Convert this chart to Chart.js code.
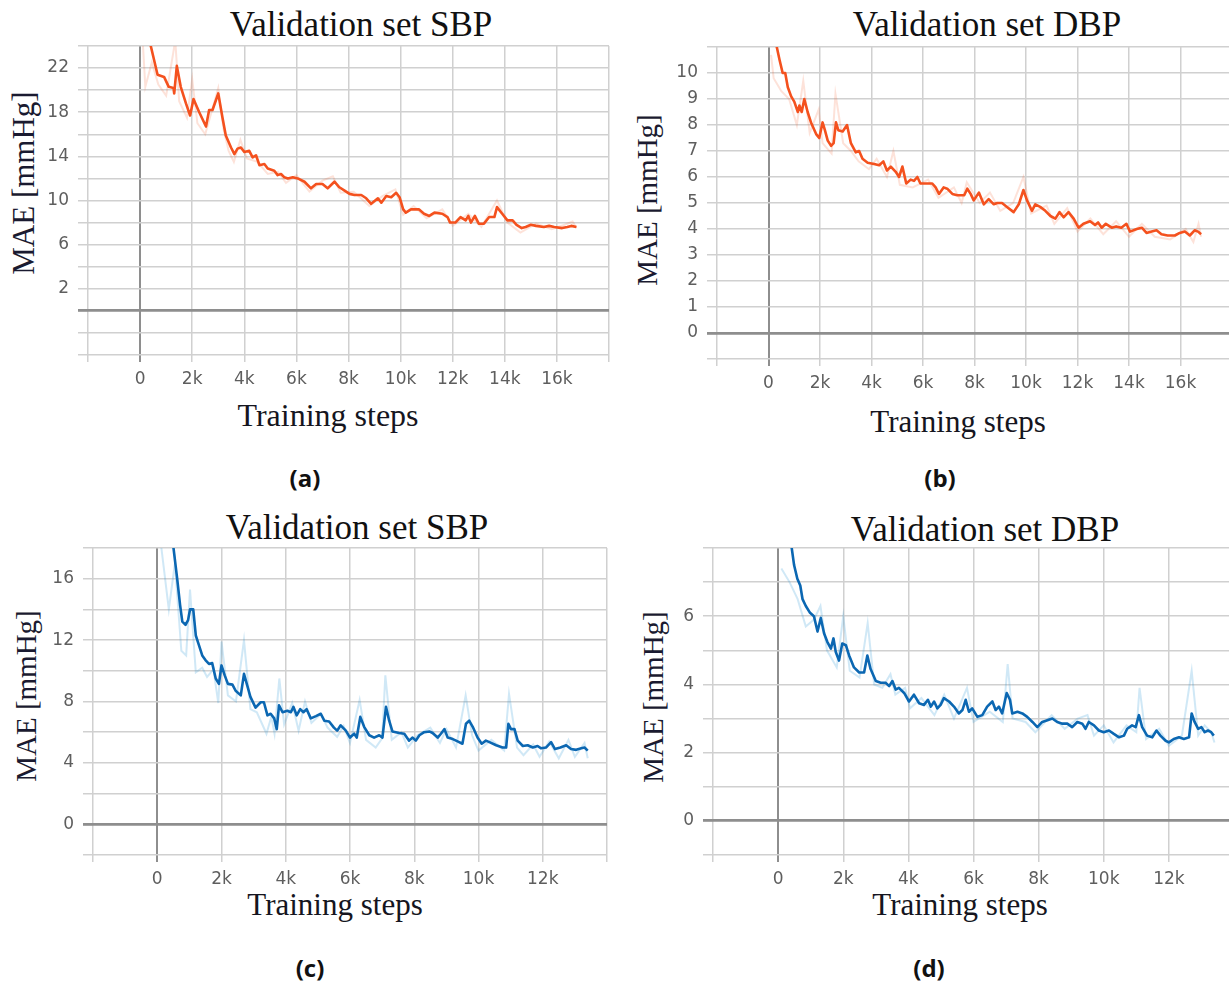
<!DOCTYPE html>
<html>
<head>
<meta charset="utf-8">
<script src="https://cdn.jsdelivr.net/npm/chart.js@4.4.1/dist/chart.umd.min.js"></script>
<style>
  body { margin: 0; width: 1229px; height: 988px; overflow: hidden; background: #fff; position: relative; }
  canvas { position: absolute; }
  .title { position: absolute; width: 400px; text-align: center; font: 35px "Liberation Serif", serif; color: #111; line-height: 40px; white-space: nowrap; }
  .xtitle { position: absolute; width: 300px; text-align: center; font: 31px "Liberation Serif", serif; color: #151520; line-height: 36px; white-space: nowrap; }
  .ytitle { position: absolute; width: 260px; height: 36px; line-height: 36px; text-align: center; font: 29px "Liberation Serif", serif; color: #1a1a30; transform: rotate(-90deg); white-space: nowrap; }
  .cap { position: absolute; width: 60px; text-align: center; font: bold 24px "Open Sans", sans-serif; color: #111; line-height: 30px; }
</style>
</head>
<body>

<div class="title" style="left:161px; top:5px;">Validation set SBP</div>
<div class="title" style="left:787px; top:5px;">Validation set DBP</div>
<div class="title" style="left:157px; top:508px;">Validation set SBP</div>
<div class="title" style="left:785px; top:510px;">Validation set DBP</div>

<div class="ytitle" style="left:-106px; top:165px; font-size:31px;">MAE [mmHg]</div>
<div class="ytitle" style="left:519px; top:182px;">MAE [mmHg]</div>
<div class="ytitle" style="left:-102px; top:678px;">MAE [mmHg]</div>
<div class="ytitle" style="left:525px; top:679px;">MAE [mmHg]</div>

<div class="xtitle" style="left:178px; top:397px; font-size:32px;">Training steps</div>
<div class="xtitle" style="left:808px; top:404px;">Training steps</div>
<div class="xtitle" style="left:185px; top:887px;">Training steps</div>
<div class="xtitle" style="left:810px; top:887px;">Training steps</div>

<div class="cap" style="left:275px; top:463px;">(a)</div>
<div class="cap" style="left:910px; top:463px;">(b)</div>
<div class="cap" style="left:280px; top:953px;">(c)</div>
<div class="cap" style="left:899px; top:953px;">(d)</div>

<canvas id="chart-a" width="640" height="420" style="left:0px; top:0px;"></canvas>
<canvas id="chart-b" width="640" height="420" style="left:620px; top:0px;"></canvas>
<canvas id="chart-c" width="640" height="420" style="left:0px; top:500px;"></canvas>
<canvas id="chart-d" width="640" height="420" style="left:620px; top:500px;"></canvas>

<script>
"use strict";

// (a) SBP, first model - smoothed curve
var stepsA = [200, 410, 670, 920, 1100, 1280, 1310, 1410, 1560, 1760,
  1920, 2050, 2270, 2530, 2650, 2780, 3000, 3170, 3290, 3490,
  3620, 3740, 3870, 4000, 4190, 4320, 4450, 4580, 4770, 4900,
  5150, 5280, 5410, 5540, 5670, 5860, 6050, 6310, 6560, 6760,
  7000, 7200, 7330, 7460, 7650, 7850, 8040, 8230, 8490, 8680,
  8870, 9130, 9260, 9450, 9640, 9830, 9960, 10100, 10200, 10400,
  10700, 10900, 11100, 11300, 11600, 11800, 11900, 12100, 12300, 12500,
  12600, 12700, 12850, 13000, 13200, 13400, 13600, 13700, 13900, 14100,
  14300, 14450, 14650, 14800, 15000, 15200, 15500, 15700, 15900, 16200,
  16400, 16550, 16750];
var maeA = [26, 24, 21.4, 21.2, 20.3, 20.2, 19.7, 22.2, 20.3, 18.8,
  17.7, 19.2, 18.0, 16.7, 18.2, 18.2, 19.7, 17.4, 15.9, 14.8,
  14.2, 14.7, 14.8, 14.4, 14.5, 13.9, 14.1, 13.2, 13.3, 12.9,
  12.7, 12.3, 12.4, 12.1, 12.0, 12.1, 12.0, 11.7, 11.1, 11.5,
  11.5, 11.1, 11.4, 11.7, 11.2, 10.9, 10.6, 10.5, 10.5, 10.2,
  9.7, 10.2, 9.8, 10.4, 10.3, 10.7, 10.3, 9.2, 8.9, 9.2,
  9.2, 8.8, 8.6, 8.9, 8.8, 8.5, 8.0, 8.0, 8.5, 8.2,
  8.6, 8.0, 8.6, 7.9, 7.9, 8.5, 8.5, 9.4, 8.8, 8.2,
  8.2, 7.8, 7.5, 7.6, 7.8, 7.7, 7.6, 7.7, 7.6, 7.5,
  7.6, 7.7, 7.6];
// (a) raw (faint) curve
var rawStepsA = [100, 200, 450, 700, 1000, 1350, 1500, 1800, 2000, 2200,
  2500, 2800, 3000, 3200, 3400, 3600, 3850, 4100, 4500, 4900,
  5300, 5600, 6000, 6500, 7000, 7400, 7700, 8200, 8800, 9300,
  9800, 10100, 10500, 11000, 11600, 12000, 12600, 13100, 13700, 14100,
  14600, 15200, 15800, 16300, 16600, 16750];
var rawA = [24.5, 20.3, 22.5, 20.5, 19.5, 24.5, 19.0, 17.5, 21.0, 17.0,
  16.0, 18.5, 20.2, 16.5, 14.5, 13.5, 15.5, 13.8, 13.5, 12.4,
  12.6, 11.6, 12.3, 10.8, 11.8, 12.2, 10.7, 10.8, 9.5, 10.4,
  11.0, 8.7, 9.5, 8.4, 9.2, 7.7, 8.8, 7.6, 10.0, 8.0,
  7.1, 7.9, 7.4, 7.8, 8.1, 7.5];

// (b) DBP, first model
var stepsB = [150, 300, 430, 550, 650, 750, 880, 1000, 1140, 1200,
  1290, 1390, 1520, 1650, 1850, 1970, 2100, 2190, 2300, 2430,
  2530, 2620, 2710, 2880, 3050, 3200, 3390, 3520, 3650, 3850,
  4100, 4300, 4460, 4600, 4750, 4940, 5070, 5200, 5350, 5520,
  5650, 5780, 5900, 6170, 6360, 6490, 6620, 6800, 6940, 7140,
  7330, 7600, 7720, 7850, 7970, 8170, 8360, 8550, 8750, 8880,
  9070, 9260, 9520, 9720, 9900, 10040, 10230, 10360, 10550, 10750,
  10950, 11140, 11300, 11460, 11650, 11850, 12040, 12230, 12490, 12680,
  12800, 12940, 13100, 13330, 13500, 13700, 13900, 14040, 14300, 14500,
  14680, 14880, 15070, 15260, 15500, 15780, 15970, 16170, 16360, 16550,
  16680, 16800];
var maeB = [12.0, 11.1, 10.5, 10.0, 10.0, 9.45, 9.1, 8.9, 8.5, 8.75,
  8.5, 9.0, 8.5, 8.1, 7.65, 7.5, 8.1, 7.8, 7.4, 7.2,
  7.3, 8.1, 7.8, 7.75, 8.0, 7.3, 6.95, 7.0, 6.7, 6.55,
  6.5, 6.45, 6.6, 6.25, 6.4, 6.2, 6.0, 6.4, 5.75, 5.9,
  5.85, 6.0, 5.75, 5.75, 5.75, 5.6, 5.35, 5.6, 5.55, 5.35,
  5.3, 5.3, 5.55, 5.35, 5.1, 5.4, 4.95, 5.15, 4.95, 5.0,
  5.0, 4.85, 4.65, 4.95, 5.5, 5.1, 4.7, 4.95, 4.85, 4.7,
  4.5, 4.4, 4.65, 4.45, 4.65, 4.4, 4.05, 4.2, 4.3, 4.15,
  4.25, 4.05, 4.2, 4.05, 4.1, 4.05, 4.2, 3.9, 4.0, 4.05,
  3.85, 3.9, 3.95, 3.8, 3.75, 3.75, 3.85, 3.9, 3.75, 3.95,
  3.9, 3.8];
var rawStepsB = [100, 200, 500, 800, 1100, 1350, 1600, 1950, 2100, 2450,
  2600, 2900, 3200, 3500, 3900, 4200, 4600, 4850, 5100, 5600,
  6200, 6600, 7200, 7500, 7700, 8200, 8600, 9000, 9500, 9900,
  10200, 10800, 11100, 11600, 12000, 12500, 13000, 13500, 14000, 14500,
  15000, 15600, 16200, 16500, 16700, 16800];
var rawB = [10.7, 9.8, 9.3, 9.0, 8.0, 9.7, 7.7, 8.6, 7.3, 6.9,
  9.2, 7.3, 7.0, 6.6, 6.3, 6.7, 6.0, 7.0, 5.7, 5.6,
  5.9, 5.2, 5.6, 5.0, 5.8, 5.0, 5.4, 4.7, 5.0, 6.0,
  4.6, 4.9, 4.2, 4.8, 3.9, 4.4, 3.8, 4.3, 3.7, 4.2,
  3.7, 3.6, 4.0, 3.5, 4.2, 3.7];

// (c) SBP, second model
var stepsC = [250, 500, 620, 710, 780, 880, 960, 1020, 1120, 1200,
  1300, 1400, 1500, 1610, 1710, 1820, 1920, 2000, 2100, 2200,
  2340, 2440, 2600, 2700, 2800, 2900, 3060, 3220, 3320, 3430,
  3530, 3640, 3720, 3790, 3900, 4050, 4160, 4240, 4340, 4450,
  4550, 4650, 4780, 4940, 5090, 5200, 5350, 5500, 5600, 5710,
  5870, 6000, 6130, 6210, 6320, 6440, 6600, 6750, 6910, 7010,
  7120, 7220, 7320, 7530, 7690, 7840, 7950, 8050, 8160, 8310,
  8470, 8570, 8730, 8830, 8940, 9040, 9200, 9350, 9500, 9610,
  9710, 9820, 9970, 10100, 10230, 10340, 10550, 10750, 10860, 10930,
  11010, 11120, 11220, 11380, 11530, 11690, 11840, 11950, 12100, 12260,
  12380, 12550, 12730, 12880, 13040, 13200, 13300, 13400];
var maeC = [22, 18.1, 16.0, 14.3, 13.2, 13.0, 13.3, 14.0, 14.0, 12.3,
  11.65, 11.0, 10.7, 10.45, 10.5, 9.5, 9.15, 10.35, 9.7, 9.15,
  9.1, 8.7, 8.4, 9.8, 9.05, 8.3, 7.6, 7.95, 7.95, 7.1,
  7.2, 6.9, 6.2, 7.75, 7.3, 7.4, 7.3, 7.65, 7.1, 7.5,
  7.3, 7.5, 6.9, 7.05, 7.2, 6.75, 6.7, 6.3, 6.1, 6.45,
  6.1, 5.65, 5.9, 5.65, 7.0, 6.35, 5.8, 5.65, 5.8, 5.65,
  7.65, 6.75, 6.05, 5.95, 5.9, 5.45, 5.65, 5.45, 5.8, 6.0,
  6.05, 5.95, 5.65, 5.9, 6.2, 5.65, 5.55, 5.4, 5.25, 6.55,
  6.75, 6.35, 5.65, 5.25, 5.45, 5.35, 5.15, 5.0, 5.0, 6.55,
  6.2, 6.2, 5.45, 5.1, 5.15, 5.0, 5.1, 4.95, 5.0, 5.35,
  4.9, 5.0, 5.15, 4.9, 4.85, 4.95, 5.0, 4.8];
var rawStepsC = [100, 360, 550, 750, 900, 1020, 1200, 1400, 1550, 1750,
  1900, 2000, 2200, 2450, 2700, 2900, 3100, 3400, 3550, 3650,
  3800, 3950, 4200, 4400, 4600, 4800, 5100, 5300, 5600, 5800,
  6000, 6300, 6500, 6800, 7000, 7100, 7300, 7600, 7800, 8100,
  8500, 8800, 9000, 9300, 9600, 9800, 10000, 10400, 10800, 10950,
  11200, 11400, 11700, 11900, 12200, 12500, 12800, 13000, 13300, 13400];
var rawC = [18.5, 14.0, 17.0, 11.3, 11.0, 15.3, 9.9, 10.2, 9.6, 10.1,
  7.9, 11.9, 8.4, 8.0, 12.0, 7.5, 7.3, 5.9, 7.0, 5.9,
  9.5, 6.5, 7.9, 6.1, 8.0, 6.6, 7.2, 6.3, 5.7, 6.4,
  5.3, 8.1, 5.5, 5.0, 5.6, 9.7, 5.5, 6.0, 5.0, 5.8,
  6.3, 5.3, 6.2, 5.0, 8.4, 5.8, 4.8, 5.5, 4.8, 8.5,
  5.0, 4.5, 5.2, 4.4, 5.4, 4.3, 5.5, 4.4, 5.3, 4.3];

// (d) DBP, second model
var stepsD = [200, 410, 490, 590, 680, 750, 850, 980, 1100, 1210,
  1310, 1410, 1510, 1620, 1700, 1770, 1870, 1970, 2080, 2180,
  2330, 2490, 2640, 2740, 2840, 3000, 3150, 3300, 3410, 3510,
  3610, 3710, 3870, 4020, 4170, 4330, 4480, 4600, 4690, 4790,
  4890, 4990, 5090, 5250, 5400, 5550, 5660, 5760, 5860, 5960,
  6120, 6270, 6420, 6580, 6680, 6780, 6880, 7020, 7120, 7190,
  7350, 7500, 7650, 7810, 7960, 8110, 8270, 8420, 8570, 8730,
  8880, 9030, 9190, 9340, 9440, 9540, 9700, 9850, 10000, 10160,
  10310, 10470, 10620, 10720, 10870, 10980, 11080, 11180, 11330, 11490,
  11620, 11740, 11900, 12000, 12150, 12310, 12460, 12620, 12700, 12790,
  12900, 13000, 13100, 13200, 13300, 13380];
var maeD = [9.5, 8.05, 7.5, 7.1, 6.9, 6.5, 6.3, 6.1, 6.0, 5.55,
  5.95, 5.5, 5.25, 5.05, 5.35, 4.95, 4.7, 5.2, 5.15, 4.85,
  4.5, 4.35, 4.35, 4.85, 4.45, 4.1, 4.05, 4.05, 3.95, 4.1,
  3.85, 3.9, 3.75, 3.5, 3.7, 3.45, 3.4, 3.55, 3.35, 3.5,
  3.3, 3.4, 3.6, 3.5, 3.35, 3.15, 3.25, 3.55, 3.2, 3.3,
  3.05, 3.1, 3.35, 3.5, 3.25, 3.35, 3.15, 3.75, 3.55, 3.15,
  3.2, 3.15, 3.05, 2.9, 2.75, 2.9, 2.95, 3.0, 2.9, 2.85,
  2.85, 2.75, 2.9, 2.85, 2.7, 2.9, 2.8, 2.65, 2.6, 2.65,
  2.55, 2.45, 2.5, 2.7, 2.8, 2.75, 3.1, 2.75, 2.5, 2.45,
  2.65, 2.5, 2.35, 2.3, 2.4, 2.45, 2.4, 2.45, 3.15, 2.9,
  2.7, 2.75, 2.6, 2.65, 2.6, 2.5];
var rawStepsD = [100, 350, 600, 850, 1100, 1300, 1500, 1800, 2000, 2200,
  2500, 2750, 2950, 3200, 3450, 3600, 3900, 4050, 4400, 4800,
  5100, 5400, 5800, 6000, 6500, 6900, 7050, 7200, 7600, 7900,
  8400, 8800, 9200, 9500, 9700, 10000, 10300, 10700, 11000, 11100,
  11300, 11700, 12000, 12400, 12700, 12900, 13100, 13300, 13400];
var rawD = [7.4, 7.0, 6.5, 5.7, 5.9, 6.3, 5.0, 4.5, 6.0, 4.4,
  4.2, 5.8, 4.0, 3.9, 4.3, 3.7, 3.9, 3.3, 3.6, 3.1,
  3.7, 3.0, 3.9, 2.9, 3.2, 2.9, 4.6, 3.0, 2.9, 2.6,
  3.1, 2.7, 3.0, 3.1, 2.5, 2.8, 2.3, 2.8, 2.6, 3.9,
  2.4, 2.7, 2.2, 2.5, 4.4, 2.5, 2.8, 2.6, 2.3];

// tick labels that are printed (other grid lines stay unlabeled)
var xLabelsLong = [0, 2000, 4000, 6000, 8000, 10000, 12000, 14000, 16000];
var xLabelsShort = [0, 2000, 4000, 6000, 8000, 10000, 12000];
var yLabelsA = [2, 6, 10, 14, 18, 22];
var yLabelsB = [0, 1, 2, 3, 4, 5, 6, 7, 8, 9, 10];
var yLabelsC = [0, 4, 8, 12, 16];
var yLabelsD = [0, 2, 4, 6];

var ORANGE = "#f4511e";
var ORANGE_RAW = "rgba(244, 81, 30, 0.17)";
var BLUE = "#0b67b2";
var BLUE_RAW = "rgba(40, 150, 215, 0.22)";
var TICK_FONT = { family: "DejaVu Sans", size: 17 };

function toPoints(xs, ys)
{
  var pts = [];
  for (var i = 0; i < xs.length && i < ys.length; i++) {
    pts.push({x: xs[i], y: ys[i]});
  }
  return pts;
}

function fmtSteps(v)
{
  if (v === 0) return "0";
  return (v / 1000) + "k";
}

function gridColor(c)
{
  if (c.tick && c.tick.value === 0) return "#8e8e8e";
  return "#d0d0d0";
}

function makeChart(id, p)
{
  var ctx = document.getElementById(id).getContext("2d");
  return new Chart(ctx, {
    type: "line",
    data: {
      datasets: [{
        data: toPoints(p.xs, p.ys),
        borderColor: p.color,
        borderWidth: 2.6,
        pointRadius: 0,
        tension: 0,
        borderJoinStyle: "round"
      }, {
        data: toPoints(p.rawXs, p.rawYs),
        borderColor: p.rawColor,
        borderWidth: 2,
        pointRadius: 0,
        tension: 0
      }]
    },
    options: {
      responsive: false,
      animation: false,
      devicePixelRatio: 1,
      layout: { padding: { left: 0, top: p.padTop, right: p.padRight, bottom: 0 } },
      plugins: { legend: { display: false }, tooltip: { enabled: false }, title: { display: false } },
      scales: {
        x: {
          type: "linear",
          min: -2000,
          max: p.xMax,
          afterFit: function(s) { s.height = p.xHeight; },
          border: { display: false },
          grid: {
            color: gridColor,
            lineWidth: function(c) { return c.tick && c.tick.value === 0 ? 2 : 1.5; },
            tickLength: 7
          },
          ticks: {
            stepSize: 2000,
            autoSkip: false,
            maxRotation: 0,
            padding: 7,
            color: "#5e5e5e",
            font: TICK_FONT,
            callback: function(v) { return p.xLabels.indexOf(v) >= 0 ? fmtSteps(v) : ""; }
          }
        },
        y: {
          min: p.yMin,
          max: p.yMax,
          afterFit: function(s) { s.width = p.yWidth; },
          border: { display: false },
          grid: {
            color: gridColor,
            lineWidth: function(c) { return c.tick && c.tick.value === 0 ? 2.8 : 1.5; },
            tickLength: 10
          },
          ticks: {
            stepSize: p.yStep,
            autoSkip: false,
            padding: 9,
            color: "#5e5e5e",
            font: TICK_FONT,
            callback: function(v) { return p.yLabels.indexOf(v) >= 0 ? String(v) : ""; }
          }
        }
      }
    }
  });
}

makeChart("chart-a", {
  xs: stepsA, ys: maeA, rawXs: rawStepsA, rawYs: rawA,
  color: ORANGE, rawColor: ORANGE_RAW,
  xMax: 18000, xLabels: xLabelsLong,
  yMin: -4, yMax: 24, yStep: 2, yLabels: yLabelsA,
  padTop: 46, padRight: 31, yWidth: 88, xHeight: 65
});
makeChart("chart-b", {
  xs: stepsB, ys: maeB, rawXs: rawStepsB, rawYs: rawB,
  color: ORANGE, rawColor: ORANGE_RAW,
  xMax: 18000, xLabels: xLabelsLong,
  yMin: -1, yMax: 11, yStep: 1, yLabels: yLabelsB,
  padTop: 47, padRight: 28, yWidth: 97, xHeight: 61
});
makeChart("chart-c", {
  xs: stepsC, ys: maeC, rawXs: rawStepsC, rawYs: rawC,
  color: BLUE, rawColor: BLUE_RAW,
  xMax: 14000, xLabels: xLabelsShort,
  yMin: -2, yMax: 18, yStep: 2, yLabels: yLabelsC,
  padTop: 48, padRight: 33, yWidth: 93, xHeight: 65
});
makeChart("chart-d", {
  xs: stepsD, ys: maeD, rawXs: rawStepsD, rawYs: rawD,
  color: BLUE, rawColor: BLUE_RAW,
  xMax: 14000, xLabels: xLabelsShort,
  yMin: -1, yMax: 8, yStep: 1, yLabels: yLabelsD,
  padTop: 48, padRight: 26, yWidth: 93, xHeight: 65
});
</script>
</body>
</html>
